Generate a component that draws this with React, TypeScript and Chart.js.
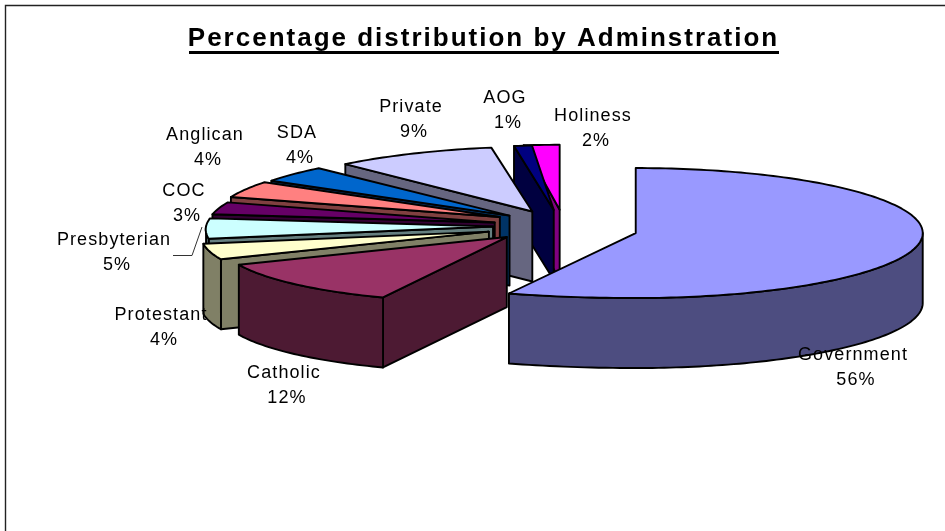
import React, { useEffect, useRef } from "react";
import { Chart, registerables } from "chart.js";

Chart.register(...registerables);

const chartTitle = "Percentage distribution by Adminstration";
const categories = ["Government", "Catholic", "Protestant", "Presbyterian", "COC", "Anglican", "SDA", "Private", "AOG", "Holiness"];
const percentages = [56, 12, 4, 5, 3, 4, 4, 9, 1, 2];

const topColours = ["#9999FF", "#993366", "#FFFFCC", "#CCFFFF", "#660066", "#FF8080", "#0066CC", "#CCCCFF", "#000080", "#FF00FF"];
const sideColours = ["#4D4D80", "#4D1A33", "#808066", "#668080", "#330033", "#804040", "#003366", "#666680", "#000040", "#800080"];

// Presentation only: explosion, perspective approximation, painter's order, label anchors.
const explodeBy = [72, 85, 80, 72, 72, 72, 72, 72, 72, 85];
const nudgeY = [4, -3, 0, 0, 0, -2, 0, 0, 0, 3];
const shearX = [0, -0.3, -0.3, -0.2, -0.3, -0.2, -0.12, -0.2, -0.22, 0];
const stretchLeft = [1.2, 1, 1, 1, 1, 1, 1, 1, 1, 1];
const paintOrder = [9, 8, 7, 6, 5, 4, 3, 2, 1, 0];
const labelAnchors: [number, number][] = [
  [853, 355], [284, 373], [161, 315], [114, 240], [184, 191],
  [205, 135], [297, 133], [411, 107], [505, 98], [593, 116],
];

const CENTER_X = 565;
const CENTER_Y = 226;
const RADIUS = 287;
const SQUASH = 65 / 287;
const DEPTH = 70;
const OUTLINE = 1.9;

const pie3d = {
  id: "pie3d",
  beforeDraw(chart: any) {
    const { ctx, width, height } = chart;
    ctx.save();
    ctx.strokeStyle = "#222222";
    ctx.lineWidth = 1.4;
    ctx.beginPath();
    ctx.moveTo(5.5, height);
    ctx.lineTo(5.5, 5.5);
    ctx.lineTo(width, 5.5);
    ctx.stroke();
    ctx.restore();
    ctx.letterSpacing = "2px";
  },
  beforeDatasetsDraw(chart: any) {
    const { ctx } = chart;
    ctx.letterSpacing = "0px";
    const arcs = chart.getDatasetMeta(0).data;
    for (const i of paintOrder) {
      const arc = arcs[i];
      const { startAngle: a0, endAngle: a1, outerRadius: r } = arc;
      const mid = (a0 + a1) / 2;
      const ox = CENTER_X + Math.cos(mid) * explodeBy[i];
      const oy = CENTER_Y + Math.sin(mid) * explodeBy[i] * SQUASH + nudgeY[i];
      const py = (a: number) => oy + r * SQUASH * Math.sin(a);
      const px = (a: number) => {
        const dx = r * Math.cos(a);
        const dy = r * SQUASH * Math.sin(a);
        return ox + (dx < 0 ? dx * stretchLeft[i] : dx) + shearX[i] * dy;
      };

      ctx.save();
      ctx.fillStyle = sideColours[i];
      ctx.strokeStyle = "#000000";
      ctx.lineWidth = OUTLINE;
      ctx.lineJoin = "round";

      const wall = (a: number) => {
        ctx.beginPath();
        ctx.moveTo(ox, oy);
        ctx.lineTo(px(a), py(a));
        ctx.lineTo(px(a), py(a) + DEPTH);
        ctx.lineTo(ox, oy + DEPTH);
        ctx.closePath();
        ctx.fill();
        ctx.stroke();
      };
      // Only faces turned towards the viewer are painted.
      if (Math.cos(a0) < 0) wall(a0);
      if (Math.cos(a1) > 1e-6) wall(a1);

      // Outer rim: the part of the arc on the near half of the ellipse.
      const from = Math.max(a0, 0);
      const to = Math.min(a1, Math.PI);
      if (to > from) {
        ctx.beginPath();
        const steps = Math.max(4, Math.ceil((to - from) * 48));
        for (let s = 0; s <= steps; s++) {
          const a = from + ((to - from) * s) / steps;
          if (s === 0) ctx.moveTo(px(a), py(a));
          else ctx.lineTo(px(a), py(a));
        }
        for (let s = steps; s >= 0; s--) {
          const a = from + ((to - from) * s) / steps;
          ctx.lineTo(px(a), py(a) + DEPTH);
        }
        ctx.closePath();
        ctx.fill();
        ctx.stroke();
      }
      ctx.restore();

      // Top face: the library's own arc element, flattened by the canvas transform.
      const paintTop = (stretch: number) => {
        ctx.save();
        ctx.translate(ox, oy);
        ctx.transform(stretch, 0, shearX[i], 1, 0, 0);
        ctx.scale(1, SQUASH);
        ctx.translate(-arc.x, -arc.y);
        arc.draw(ctx);
        ctx.restore();
      };
      if (stretchLeft[i] !== 1) {
        ctx.save();
        ctx.beginPath();
        ctx.rect(ox, 0, chart.width - ox, chart.height);
        ctx.clip();
        paintTop(1);
        ctx.restore();
        ctx.save();
        ctx.beginPath();
        ctx.rect(0, 0, ox + 1, chart.height);
        ctx.clip();
        paintTop(stretchLeft[i]);
        ctx.restore();
      } else {
        paintTop(1);
      }

      ctx.save();
      ctx.strokeStyle = "#000000";
      ctx.lineWidth = OUTLINE;
      ctx.lineJoin = "round";
      ctx.beginPath();
      ctx.moveTo(ox, oy);
      const rimSteps = Math.max(4, Math.ceil((a1 - a0) * 48));
      for (let s = 0; s <= rimSteps; s++) {
        const a = a0 + ((a1 - a0) * s) / rimSteps;
        ctx.lineTo(px(a), py(a));
      }
      ctx.closePath();
      ctx.stroke();
      ctx.restore();
    }
    return false;
  },
  afterDraw(chart: any) {
    const { ctx } = chart;
    ctx.save();
    // Title underline
    ctx.fillStyle = "#000000";
    ctx.fillRect(189, 51, 590, 3);
    // Leader line for Presbyterian
    ctx.strokeStyle = "#333333";
    ctx.lineWidth = 1;
    ctx.beginPath();
    ctx.moveTo(173, 255.5);
    ctx.lineTo(192, 255.5);
    ctx.lineTo(202, 227);
    ctx.stroke();
    // Data labels
    ctx.fillStyle = "#000000";
    ctx.font = '18px "Liberation Sans", Arial, sans-serif';
    ctx.letterSpacing = "1.1px";
    ctx.textAlign = "center";
    ctx.textBaseline = "middle";
    categories.forEach((name, i) => {
      const [x, y] = labelAnchors[i];
      ctx.fillText(name, x, y);
      ctx.fillText(`${percentages[i]}%`, x + 3, y + 25);
    });
    ctx.restore();
  },
};

export default function App() {
  const ref = useRef<HTMLCanvasElement>(null);
  useEffect(() => {
    const chart = new Chart(ref.current as HTMLCanvasElement, {
      type: "pie",
      data: {
        labels: categories,
        datasets: [{ data: percentages, backgroundColor: topColours, borderWidth: 0, radius: RADIUS } as any],
      },
      options: {
        animation: false,
        responsive: false,
        layout: { padding: { left: 22, right: 0, top: 0, bottom: 0 } },
        plugins: {
          legend: { display: false },
          tooltip: { enabled: false },
          title: {
            display: true,
            text: chartTitle,
            color: "#000000",
            font: { family: '"Liberation Sans", Arial, sans-serif', size: 26, weight: "bold" },
            padding: { top: 23, bottom: 10 },
          },
        },
      } as any,
      plugins: [pie3d as any],
    });
    return () => chart.destroy();
  }, []);
  return (
    <div style={{ position: "absolute", left: 0, top: 0, width: 945, height: 531, background: "#ffffff" }}>
      <canvas ref={ref} width={945} height={531} style={{ display: "block" }} />
    </div>
  );
}
